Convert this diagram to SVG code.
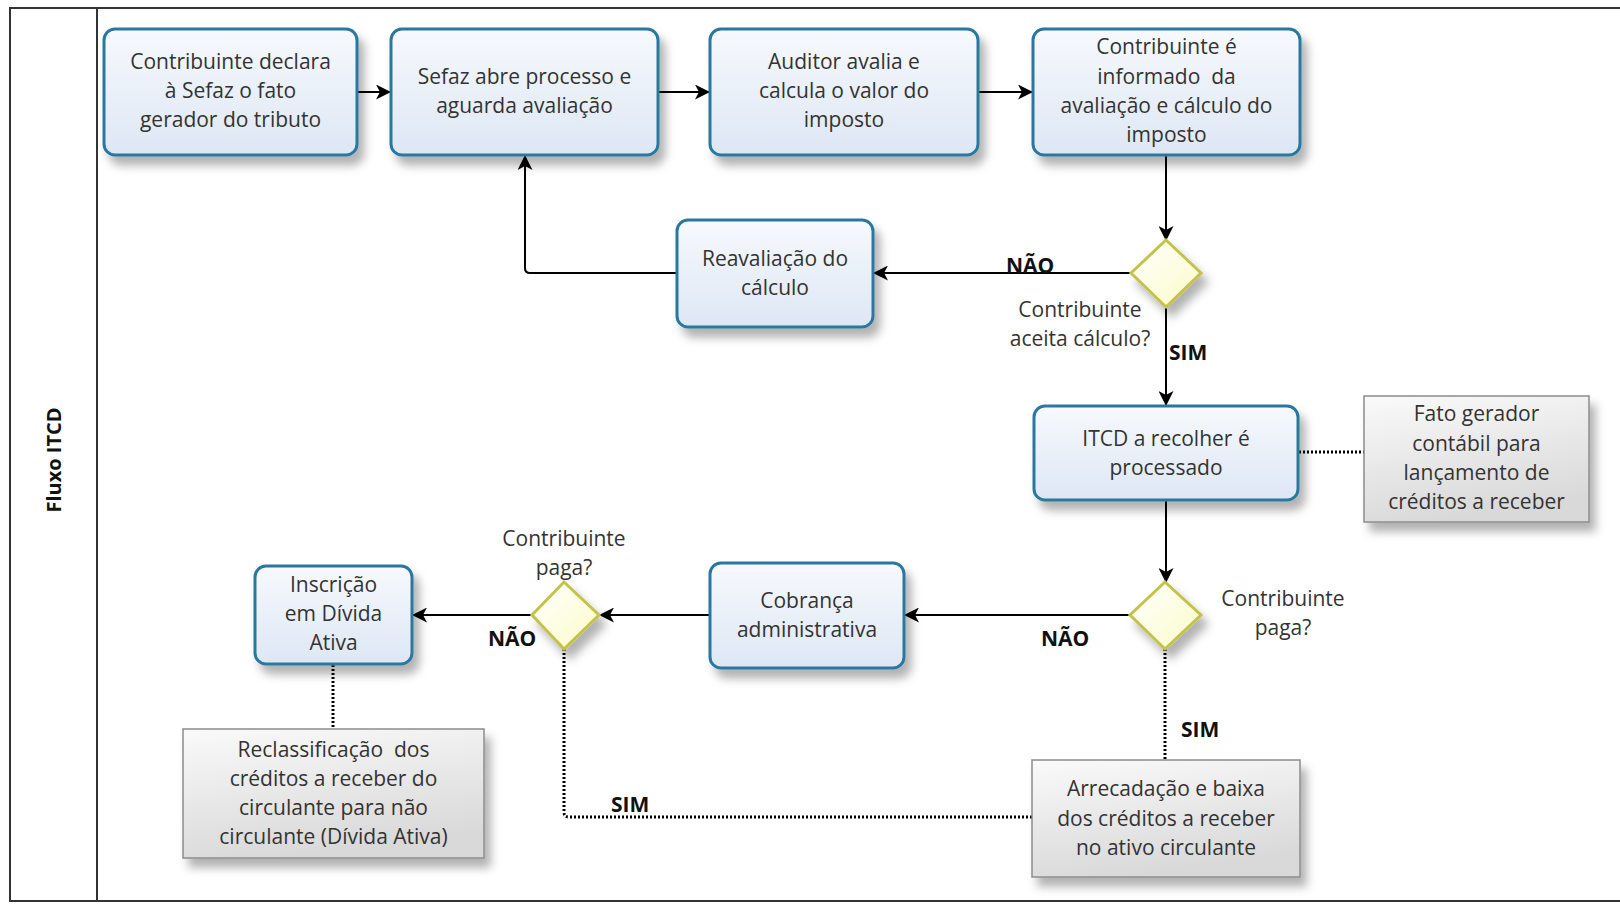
<svg xmlns="http://www.w3.org/2000/svg" width="1620" height="904" viewBox="0 0 1620 904">
<defs>
  <linearGradient id="gBox" x1="0" y1="0" x2="0" y2="1">
    <stop offset="0" stop-color="#f7f9fd"/>
    <stop offset="1" stop-color="#dde7f4"/>
  </linearGradient>
  <linearGradient id="gNote" x1="0" y1="0" x2="0.3" y2="1">
    <stop offset="0" stop-color="#fafafa"/>
    <stop offset="1" stop-color="#d9d9d9"/>
  </linearGradient>
  <linearGradient id="gDia" x1="0" y1="0" x2="1" y2="1">
    <stop offset="0" stop-color="#ffffff"/>
    <stop offset="1" stop-color="#fbfbc8"/>
  </linearGradient>
  <filter id="sh" x="-20%" y="-20%" width="150%" height="160%">
    <feDropShadow dx="6" dy="9" stdDeviation="5" flood-color="#000" flood-opacity="0.3"/>
  </filter>
  <marker id="arr" viewBox="0 0 15 15" refX="14" refY="7.5" markerWidth="15" markerHeight="15" markerUnits="userSpaceOnUse" orient="auto">
    <path d="M0,0 L15,7.5 L0,15 L4,7.5 Z" fill="#000"/>
  </marker>
  <style>
    .box{fill:url(#gBox);stroke:#2a78a0;stroke-width:3;filter:url(#sh)}
    .note{fill:url(#gNote);stroke:#8c8c8c;stroke-width:1.5;filter:url(#sh)}
    .dia{fill:url(#gDia);stroke:#c3c34a;stroke-width:3;filter:url(#sh)}
    .t{font-family:"Open Sans","Noto Sans","DejaVu Sans",sans-serif;font-size:21px;fill:#333;text-anchor:middle}
    .lbl{font-family:"Open Sans","Noto Sans","DejaVu Sans",sans-serif;font-size:21px;font-weight:bold;fill:#111}
    .ln{fill:none;stroke:#000;stroke-width:2}
    .dot{fill:none;stroke:#000;stroke-width:3;stroke-dasharray:2 2}
  </style>
</defs>
<rect width="1620" height="904" fill="#ffffff"/>
<g id="pool">
  <rect x="10" y="8" width="1630" height="893" fill="none" stroke="#333" stroke-width="2"/>
  <line x1="97" y1="8" x2="97" y2="901" stroke="#333" stroke-width="2"/>
  <text class="lbl" transform="translate(61,460) rotate(-90)" text-anchor="middle" style="font-size:20px">Fluxo ITCD</text>
</g>
<g id="connectors">
  <path class="ln" d="M357,92 H390" marker-end="url(#arr)"/>
  <path class="ln" d="M658,92 H709" marker-end="url(#arr)"/>
  <path class="ln" d="M978,92 H1032" marker-end="url(#arr)"/>
  <path class="ln" d="M1166,155 V240" marker-end="url(#arr)"/>
  <path class="ln" d="M1131,273 H874" marker-end="url(#arr)"/>
  <path class="ln" d="M677,273 H530 Q525,273 525,268 V156" marker-end="url(#arr)"/>
  <path class="ln" d="M1166,307 V405" marker-end="url(#arr)"/>
  <path class="ln" d="M1166,500 V582" marker-end="url(#arr)"/>
  <path class="ln" d="M1131,615 H905" marker-end="url(#arr)"/>
  <path class="ln" d="M710,615 H600" marker-end="url(#arr)"/>
  <path class="ln" d="M532,615 H413" marker-end="url(#arr)"/>
  <path class="dot" d="M1299,452 H1364"/>
  <path class="dot" d="M1165,649 V760"/>
  <path class="dot" d="M1032,817 H569 Q564,817 564,812 V649"/>
  <path class="dot" d="M333,665 V729"/>
  <text class="lbl" x="1006" y="273">NÃO</text>
  <text class="lbl" x="1169" y="360">SIM</text>
  <text class="lbl" x="1041" y="646">NÃO</text>
  <text class="lbl" x="488" y="646">NÃO</text>
  <text class="lbl" x="1181" y="737">SIM</text>
  <text class="lbl" x="611" y="812">SIM</text>
</g>
<g id="n1">
  <rect class="box" x="104" y="29" width="253" height="126" rx="11"/>
  <text class="t" x="230.5" y="69">Contribuinte declara</text>
  <text class="t" x="230.5" y="98">à Sefaz o fato</text>
  <text class="t" x="230.5" y="127">gerador do tributo</text>
</g>
<g id="n2">
  <rect class="box" x="391" y="29" width="267" height="126" rx="11"/>
  <text class="t" x="524.5" y="84">Sefaz abre processo e</text>
  <text class="t" x="524.5" y="113">aguarda avaliação</text>
</g>
<g id="n3">
  <rect class="box" x="710" y="29" width="268" height="126" rx="11"/>
  <text class="t" x="844" y="69">Auditor avalia e</text>
  <text class="t" x="844" y="98">calcula o valor do</text>
  <text class="t" x="844" y="127">imposto</text>
</g>
<g id="n4">
  <rect class="box" x="1033" y="29" width="267" height="126" rx="11"/>
  <text class="t" x="1166.5" y="54">Contribuinte é</text>
  <text class="t" x="1166.5" y="84" xml:space="preserve">informado  da</text>
  <text class="t" x="1166.5" y="113">avaliação e cálculo do</text>
  <text class="t" x="1166.5" y="142">imposto</text>
</g>
<g id="n5">
  <rect class="box" x="677" y="220" width="196" height="107" rx="11"/>
  <text class="t" x="775" y="266">Reavaliação do</text>
  <text class="t" x="775" y="295">cálculo</text>
</g>
<g id="d1">
  <path class="dia" d="M1166,240 L1201,273 L1166,307 L1131,273 Z"/>
  <text class="t" x="1080" y="317">Contribuinte</text>
  <text class="t" x="1080" y="346">aceita cálculo?</text>
</g>
<g id="n6">
  <rect class="box" x="1034" y="406" width="264" height="94" rx="11"/>
  <text class="t" x="1166" y="446">ITCD a recolher é</text>
  <text class="t" x="1166" y="475">processado</text>
</g>
<g id="note1">
  <rect class="note" x="1364" y="396" width="225" height="126"/>
  <text class="t" x="1476.5" y="421">Fato gerador</text>
  <text class="t" x="1476.5" y="451">contábil para</text>
  <text class="t" x="1476.5" y="480">lançamento de</text>
  <text class="t" x="1476.5" y="509">créditos a receber</text>
</g>
<g id="d2">
  <path class="dia" d="M1165,582 L1201,615 L1165,649 L1130,615 Z"/>
  <text class="t" x="1283" y="606">Contribuinte</text>
  <text class="t" x="1283" y="635">paga?</text>
</g>
<g id="n7">
  <rect class="box" x="710" y="563" width="194" height="105" rx="11"/>
  <text class="t" x="807" y="608">Cobrança</text>
  <text class="t" x="807" y="637">administrativa</text>
</g>
<g id="d3">
  <path class="dia" d="M564,582 L599,615 L564,649 L532,615 Z"/>
  <text class="t" x="564" y="546">Contribuinte</text>
  <text class="t" x="564" y="575">paga?</text>
</g>
<g id="n8">
  <rect class="box" x="255" y="566" width="157" height="98" rx="11"/>
  <text class="t" x="333.5" y="592">Inscrição</text>
  <text class="t" x="333.5" y="621">em Dívida</text>
  <text class="t" x="333.5" y="650">Ativa</text>
</g>
<g id="note2">
  <rect class="note" x="183" y="729" width="301" height="129"/>
  <text class="t" x="333.5" y="757" xml:space="preserve">Reclassificação  dos</text>
  <text class="t" x="333.5" y="786">créditos a receber do</text>
  <text class="t" x="333.5" y="815">circulante para não</text>
  <text class="t" x="333.5" y="844">circulante (Dívida Ativa)</text>
</g>
<g id="note3">
  <rect class="note" x="1032" y="760" width="268" height="117"/>
  <text class="t" x="1166" y="796">Arrecadação e baixa</text>
  <text class="t" x="1166" y="826">dos créditos a receber</text>
  <text class="t" x="1166" y="855">no ativo circulante</text>
</g>
</svg>
